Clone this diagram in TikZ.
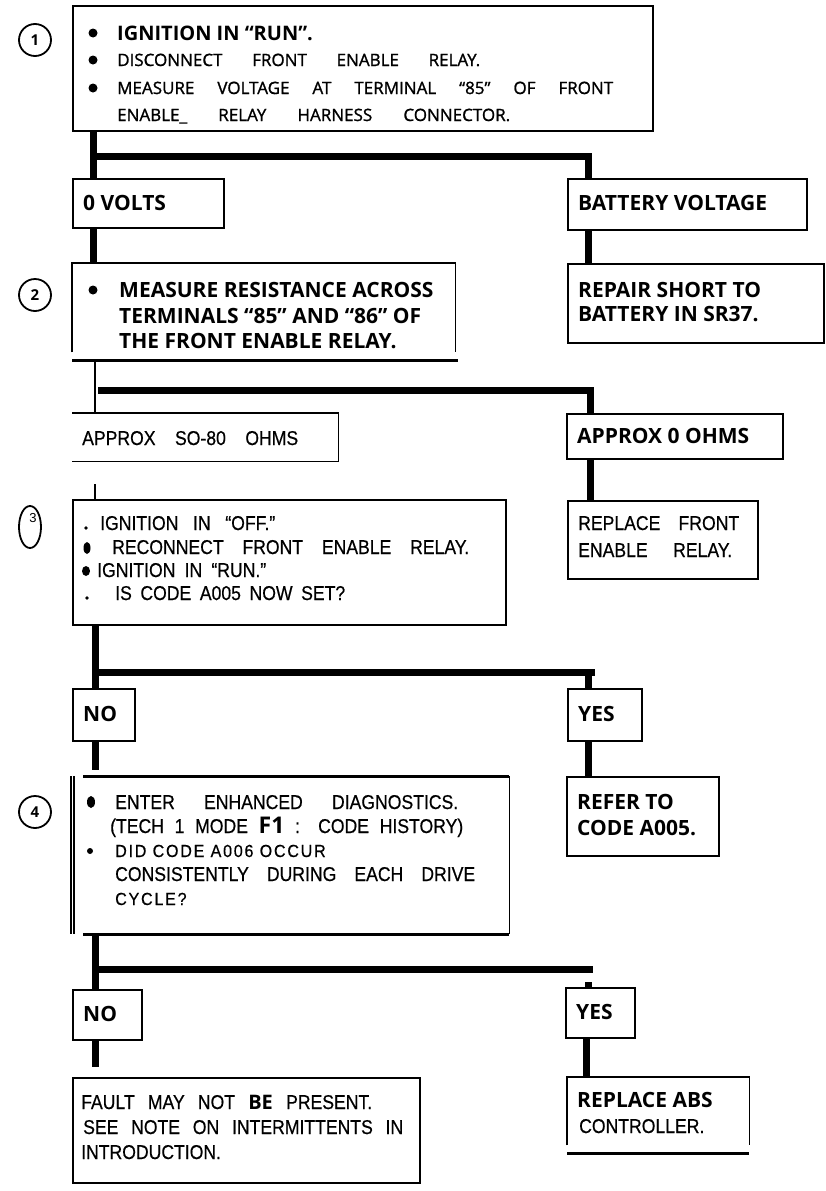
\documentclass[tikz,border=0pt]{standalone}
\usepackage{fontspec}
\setmainfont{Liberation Sans}
\newfontfamily\hum{Open Sans}
\newfontfamily\humm{Open Sans}[FakeBold=1.2]
\newfontfamily\cond{Liberation Sans}[FakeStretch=0.88, FakeBold=0.5]
\newfontfamily\spaced{Liberation Sans}[FakeStretch=0.92, LetterSpace=10, FakeBold=0.5]
\usetikzlibrary{shapes.geometric}

\tikzset{
  frame/.style={draw, line width=1.8pt, inner sep=0pt, anchor=north west},
  hidden/.style={inner sep=0pt, anchor=north west},
  conn/.style={line width=7pt, line join=miter},
  thin/.style={line width=1.6pt},
  edge/.style={line width=1.8pt},
  heavy/.style={line width=3pt},
  num/.style={circle, draw, line width=1.8pt, minimum size=32pt, inner sep=0pt,
    font=\hum\bfseries\fontsize{15}{15}\selectfont},
  bld/.style={inner sep=0pt, anchor=base west, font=\hum\bfseries\fontsize{21}{21}\selectfont},
  med/.style={inner sep=0pt, anchor=base west, font=\humm\fontsize{17}{17}\selectfont},
  reg/.style={inner sep=0pt, anchor=base west, font=\cond\fontsize{20}{20}\selectfont},
  wide/.style={inner sep=0pt, anchor=base west, font=\spaced\fontsize{17.5}{17.5}\selectfont},
}

\begin{document}
\begin{tikzpicture}[x=1pt, y=-1pt]
\fill[white] (0,0) rectangle (826,1191);
\useasboundingbox (0,0) rectangle (826,1191);

% ---------- step 1 ----------
\node[num] (c1) at (35,40) {1};
\node[frame, minimum width=580pt, minimum height=125pt] (b1) at (72,5) {};
\fill (93,33) circle[radius=4.5pt];
\fill (93,60) circle[radius=4.5pt];
\fill (93,88) circle[radius=4.5pt];
\node[bld, font=\hum\bfseries\fontsize{20}{20}\selectfont] (t1a) at (117,40) {IGNITION IN “RUN”.};
\node[med] (t1b) at (117,66) {\makebox[363pt][s]{DISCONNECT FRONT ENABLE RELAY.}};
\node[med] (t1c) at (117,94) {\makebox[496pt][s]{MEASURE VOLTAGE AT TERMINAL “85” OF FRONT}};
\node[med] (t1d) at (117,121) {\makebox[393pt][s]{ENABLE\_ RELAY HARNESS CONNECTOR.}};

\coordinate (j1) at (93,156);
\coordinate (j1r) at (588,156);
\node[frame, minimum width=151pt, minimum height=49pt] (v0) at (72,178) {};
\node[bld] (tv0) at (83,210) {0 VOLTS};
\node[frame, minimum width=239pt, minimum height=51pt] (vb) at (567,178) {};
\node[bld] (tvb) at (578,210) {BATTERY VOLTAGE};
\draw[conn] (b1.south -| j1) -- (v0.north -| j1);
\draw[conn] (j1) -- (j1r) -- (j1r |- vb.north);

% ---------- step 2 ----------
\node[num] (c2) at (35,295) {2};
\node[hidden, minimum width=383pt, minimum height=89pt] (b2) at (72,263) {};
\draw[edge] (b2.south west) -- (b2.north west) -- (b2.north east) -- (b2.south east);
\coordinate (b2l) at (72,360);
\coordinate (b2r) at (458,360);
\draw[heavy] (b2l) -- (b2r);
\draw[conn] (v0.south -| j1) -- (b2.north -| j1);
\fill (93,290) circle[radius=4.5pt];
\node[bld] (t2a) at (119,297) {MEASURE RESISTANCE ACROSS};
\node[bld] (t2b) at (119,323) {TERMINALS “85” AND “86” OF};
\node[bld] (t2c) at (119,348) {THE FRONT ENABLE RELAY.};

\node[frame, minimum width=256pt, minimum height=79pt] (rp) at (567,263) {};
\draw[conn] (vb.south -| j1r) -- (rp.north -| j1r);
\node[bld] (trp1) at (578,297) {REPAIR SHORT TO};
\node[bld] (trp2) at (578,321) {BATTERY IN SR37.};

\coordinate (j2) at (95,390);
\coordinate (j2s) at (98,390);
\coordinate (j2r) at (590,390);
\node[hidden, minimum width=266pt, minimum height=48pt] (so) at (72,413) {};
\draw[edge] (so.north west) -- (so.north east) -- (so.south east) -- (so.south west);
\node[reg] (tso) at (82,445) {\makebox[216pt][s]{APPROX SO-80 OHMS}};
\node[frame, minimum width=216pt, minimum height=45pt] (az) at (566,413) {};
\node[bld] (taz) at (577,443) {APPROX 0 OHMS};
\draw[thin] (b2l -| j2) -- (so.north -| j2);
\draw[conn] (j2s) -- (j2r) -- (j2r |- az.north);

% ---------- step 3 ----------
\node[draw, ellipse, line width=1.8pt, minimum width=22pt, minimum height=42pt, inner sep=0pt] (c3) at (30,527) {};
\node[inner sep=0pt, font=\fontsize{13}{13}\selectfont] (c3n) at (33,518) {3};
\node[frame, minimum width=433pt, minimum height=125pt] (b3) at (72,499) {};
\coordinate (s3) at (95,484);
\draw[thin] (s3) -- (s3 |- b3.north);
\fill (86,528) circle[radius=1.8pt];
\node[reg] (t3a) at (100,530) {\makebox[175pt][s]{IGNITION IN “OFF.”}};
\fill (87,548) ellipse[x radius=3.5pt, y radius=6pt];
\node[reg] (t3b) at (112,554) {\makebox[357pt][s]{RECONNECT FRONT ENABLE RELAY.}};
\fill (86,571) ellipse[x radius=4pt, y radius=5pt];
\node[reg] (t3c) at (97,577) {\makebox[169pt][s]{IGNITION IN “RUN.”}};
\fill (87,598) circle[radius=1.8pt];
\node[reg] (t3d) at (115,600) {\makebox[230pt][s]{IS CODE A005 NOW SET?}};

\node[frame, minimum width=190pt, minimum height=78pt] (rf) at (567,500) {};
\node[reg] (trf1) at (578,530) {\makebox[161pt][s]{REPLACE FRONT}};
\node[reg] (trf2) at (578,557) {\makebox[154pt][s]{ENABLE RELAY.}};
\draw[conn] (az.south -| j2r) -- (rf.north -| j2r);

\coordinate (j3) at (95,672);
\coordinate (j3r) at (595,672);
\coordinate (j3d) at (588,672);
\node[frame, minimum width=62pt, minimum height=52pt] (no3) at (72,688) {};
\node[bld] (tno3) at (83,721) {NO};
\node[frame, minimum width=74pt, minimum height=52pt] (ye3) at (567,688) {};
\node[bld] (tye3) at (578,721) {YES};
\draw[conn] (b3.south -| j3) -- (no3.north -| j3);
\draw[conn] (j3) -- (j3r);
\draw[conn] (j3d) -- (j3d |- ye3.north);

% ---------- step 4 ----------
\node[num] (c4) at (35,812) {4};
\node[hidden, minimum width=435pt, minimum height=158pt] (b4) at (74,776) {};
\draw[edge] (b4.north east) -- (b4.south east);
\draw[thin] (b4.north west) -- (b4.south west);
\draw[thin] ([xshift=-3pt]b4.north west) -- ([xshift=-3pt]b4.south west);
\draw[heavy] ([xshift=9pt]b4.north west) -- (b4.north east);
\draw[heavy] ([xshift=9pt]b4.south west) -- (b4.south east);
\coordinate (n4) at (95,770);
\draw[conn] (no3.south -| n4) -- (n4);
\fill (91,802) ellipse[x radius=4pt, y radius=6pt];
\node[reg] (t4a) at (115,809) {\makebox[343pt][s]{ENTER ENHANCED DIAGNOSTICS.}};
\node[reg] (t4b) at (110,833) {\makebox[353pt][s]{(TECH 1 MODE {\hum\bfseries\fontsize{23}{23}\selectfont F1} : CODE HISTORY)}};
\fill (90,851) circle[radius=3pt];
\node[wide] (t4c) at (115,857) {DID CODE A006 OCCUR};
\node[reg] (t4d) at (115,881) {\makebox[360pt][s]{CONSISTENTLY DURING EACH DRIVE}};
\node[wide] (t4e) at (115,905) {CYCLE?};

\node[frame, minimum width=152pt, minimum height=79pt] (rfr) at (566,776) {};
\node[bld] (trfr1) at (577,809) {REFER TO};
\node[bld] (trfr2) at (577,835) {CODE A005.};
\draw[conn] (ye3.south -| j3d) -- (rfr.north -| j3d);

\coordinate (j4) at (95,969);
\coordinate (j4r) at (593,969);
\coordinate (s4) at (588,982);
\node[frame, minimum width=69pt, minimum height=50pt] (no4) at (72,989) {};
\node[bld] (tno4) at (83,1021) {NO};
\node[frame, minimum width=69pt, minimum height=50pt] (ye4) at (565,987) {};
\node[bld] (tye4) at (576,1019) {YES};
\draw[conn] (b4.south -| j4) -- (no4.north -| j4);
\draw[conn] (j4) -- (j4r);
\draw[conn] (s4) -- (s4 |- ye4.north);

% ---------- outcomes ----------
\node[frame, minimum width=347pt, minimum height=105pt] (ft) at (72,1077) {};
\coordinate (n5) at (95,1067);
\draw[conn] (no4.south -| n5) -- (n5);
\node[reg] (tft1) at (81,1109) {\makebox[291pt][s]{FAULT MAY NOT {\hum\bfseries BE} PRESENT.}};
\node[reg] (tft2) at (83,1134) {\makebox[320pt][s]{SEE NOTE ON INTERMITTENTS IN}};
\node[reg] (tft3) at (81,1159) {INTRODUCTION.};

\node[hidden, minimum width=182pt, minimum height=68pt] (ra) at (567,1077) {};
\draw[edge] (ra.south west) -- (ra.north west) -- (ra.north east) -- (ra.south east);
\draw[heavy] ([yshift=-8pt]ra.south west) -- ([yshift=-8pt]ra.south east);
\coordinate (y5) at (586,1077);
\draw[conn] (ye4.south -| y5) -- (ra.north -| y5);
\node[bld] (tra1) at (577,1107) {REPLACE ABS};
\node[reg] (tra2) at (579,1133) {CONTROLLER.};
\end{tikzpicture}
\end{document}
